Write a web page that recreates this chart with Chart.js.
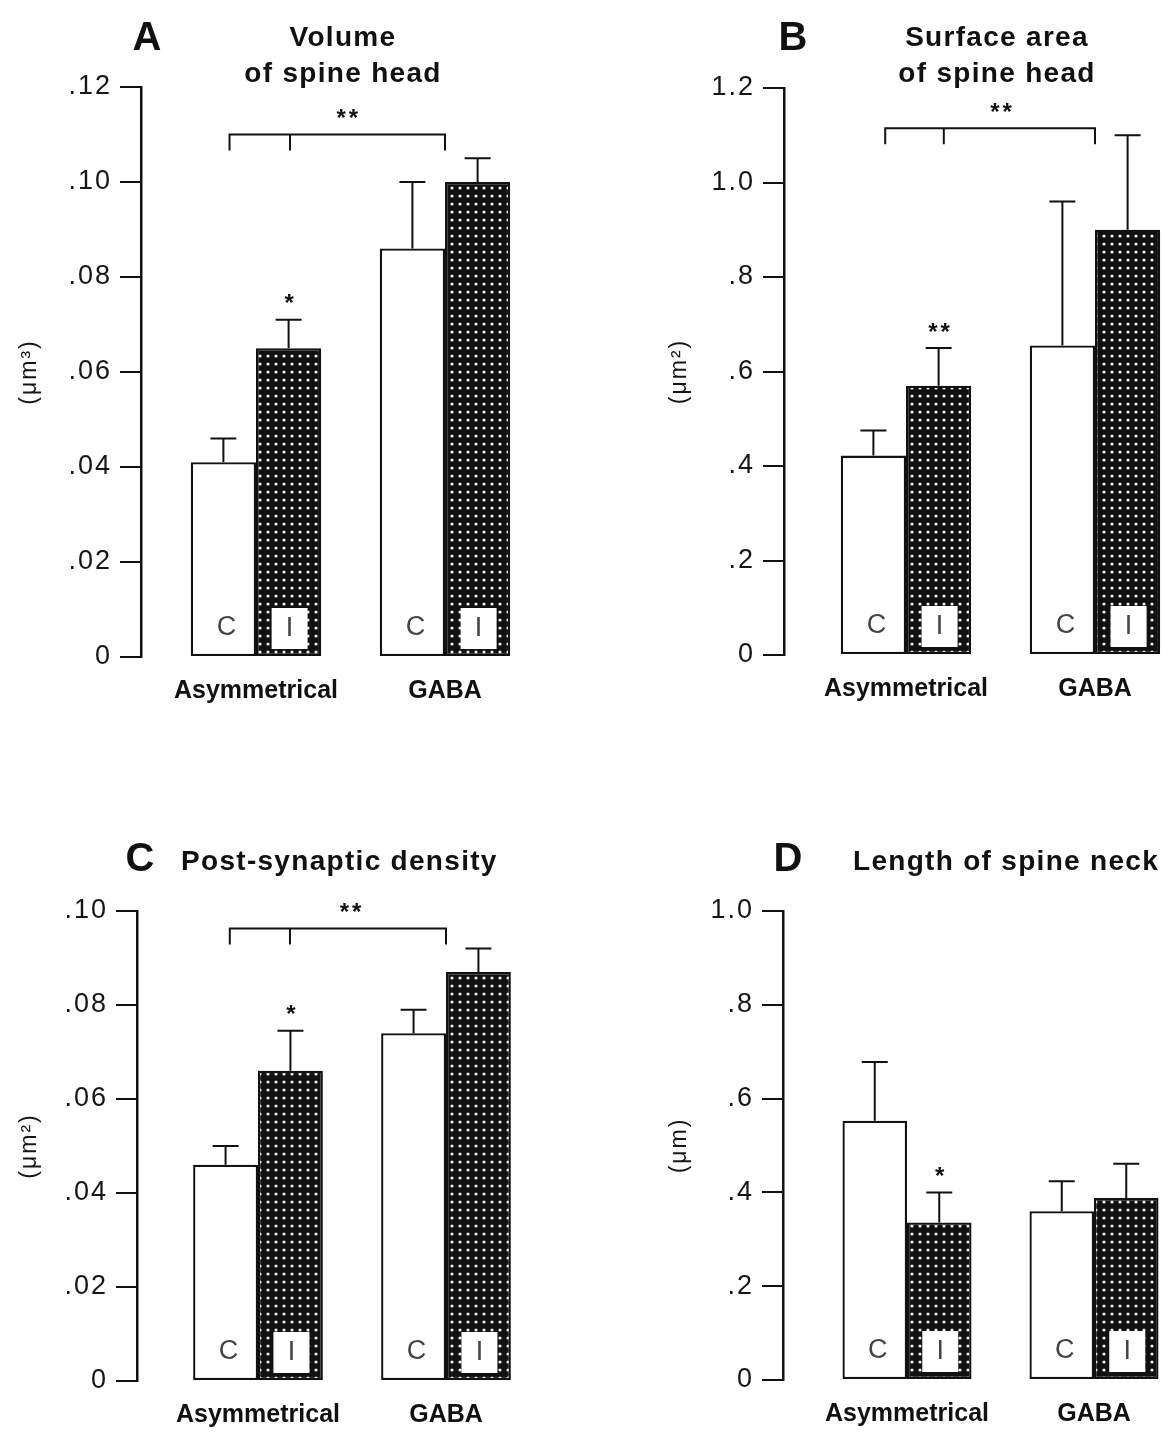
<!DOCTYPE html>
<html>
<head>
<meta charset="utf-8">
<script src="https://cdn.jsdelivr.net/npm/chart.js@4.4.1/dist/chart.umd.min.js"></script>
<style>
  body { margin: 0; background: #fff; }
  #page { position: relative; width: 1165px; height: 1432px; overflow: hidden;
          font-family: 'Liberation Sans', Arial, Helvetica, sans-serif; color: #111; }
  .box { position: absolute; }
  .letter { position: absolute; font-size: 40px; font-weight: bold; line-height: 40px;
            transform: translateX(-50%); z-index: 2; }
  .title { position: absolute; font-size: 28px; font-weight: bold; line-height: 36px;
           letter-spacing: 1.3px; white-space: nowrap; z-index: 2; }
  .center { transform: translateX(-50%); text-align: center; }
</style>
</head>
<body>
<div id="page">
  <div class="letter" style="left:147px; top:16px">A</div>
  <div class="title center" style="left:343px; top:19px">Volume<br>of spine head</div>
  <div class="letter" style="left:793px; top:16px">B</div>
  <div class="title center" style="left:997px; top:19px">Surface area<br>of spine head</div>
  <div class="letter" style="left:140px; top:837px">C</div>
  <div class="title" style="left:181px; top:843px">Post-synaptic density</div>
  <div class="letter" style="left:788px; top:837px">D</div>
  <div class="title" style="left:853px; top:843px">Length of spine neck</div>

  <div class="box" style="left:0px; top:40px"><canvas id="chartA" width="580" height="690"></canvas></div>
  <div class="box" style="left:580px; top:40px"><canvas id="chartB" width="585" height="690"></canvas></div>
  <div class="box" style="left:0px; top:870px"><canvas id="chartC" width="580" height="562"></canvas></div>
  <div class="box" style="left:580px; top:870px"><canvas id="chartD" width="585" height="562"></canvas></div>
</div>
<script>
const categories = ['Asymmetrical', 'GABA'];
const groupLabels = ['C', 'I'];

// A - volume of spine head (um3)
const volumeC = [0.041, 0.086];
const volumeCSem = [0.005, 0.014];
const volumeI = [0.065, 0.100];
const volumeISem = [0.006, 0.005];
const volumeTicks = ['0', '.02', '.04', '.06', '.08', '.10', '.12'];

// B - surface area of spine head (um2)
const surfaceC = [0.422, 0.655];
const surfaceCSem = [0.053, 0.305];
const surfaceI = [0.57, 0.90];
const surfaceISem = [0.08, 0.20];
const surfaceTicks = ['0', '.2', '.4', '.6', '.8', '1.0', '1.2'];

// C - post-synaptic density (um2)
const psdC = [0.046, 0.074];
const psdCSem = [0.004, 0.005];
const psdI = [0.066, 0.087];
const psdISem = [0.0085, 0.005];
const psdTicks = ['0', '.02', '.04', '.06', '.08', '.10'];

// D - length of spine neck (um)
const neckC = [0.553, 0.360];
const neckCSem = [0.125, 0.064];
const neckI = [0.336, 0.388];
const neckISem = [0.064, 0.073];
const neckTicks = ['0', '.2', '.4', '.6', '.8', '1.0'];

Chart.defaults.font.family = "'Liberation Sans', Arial, Helvetica, sans-serif";

// black fill with white dots for the I bars
function dotPattern() {
	var c = document.createElement('canvas');
	c.width = 8; c.height = 8;
	var g = c.getContext('2d');
	g.fillStyle = '#111';
	g.fillRect(0, 0, 8, 8);
	g.fillStyle = '#ececec';
	g.beginPath();
	g.arc(4, 4, 1.6, 0, Math.PI * 2);
	g.fill();
	return g.createPattern(c, 'repeat');
}
var dots = dotPattern();

var panels = [
	{ id: 'chartA', unit: '(\u03bcm\u00b3)', max: 0.12, step: 0.02, ticks: volumeTicks,
	  c: volumeC, cSem: volumeCSem, i: volumeI, iSem: volumeISem,
	  stars: [[1, 0, '*']], bracket: { y: 0.110, xs: [-0.14, 0.18, 1.0], textX: 0.48, text: '**' },
	  left: 0, top: 40, width: 580, height: 690,
	  axisX: 141, firstX: 256, secondX: 445, plotTop: 87, plotBottom: 657, unitX: 30 },
	{ id: 'chartB', unit: '(\u03bcm\u00b2)', max: 1.2, step: 0.2, ticks: surfaceTicks,
	  c: surfaceC, cSem: surfaceCSem, i: surfaceI, iSem: surfaceISem,
	  stars: [[1, 0, '**']], bracket: { y: 1.115, xs: [-0.11, 0.2, 1.0], textX: 0.5, text: '**' },
	  left: 580, top: 40, width: 585, height: 690,
	  axisX: 784, firstX: 906, secondX: 1095, plotTop: 88, plotBottom: 655, unitX: 680 },
	{ id: 'chartC', unit: '(\u03bcm\u00b2)', max: 0.10, step: 0.02, ticks: psdTicks,
	  c: psdC, cSem: psdCSem, i: psdI, iSem: psdISem,
	  stars: [[1, 0, '*']], bracket: { y: 0.0963, xs: [-0.15, 0.17, 1.0], textX: 0.49, text: '**' },
	  left: 0, top: 870, width: 580, height: 562,
	  axisX: 137, firstX: 258, secondX: 446, plotTop: 911, plotBottom: 1381, unitX: 30 },
	{ id: 'chartD', unit: '(\u03bcm)', max: 1.0, step: 0.2, ticks: neckTicks,
	  c: neckC, cSem: neckCSem, i: neckI, iSem: neckISem,
	  stars: [[1, 0, '*']], bracket: null,
	  left: 580, top: 870, width: 585, height: 562,
	  axisX: 783, firstX: 907, secondX: 1094, plotTop: 911, plotBottom: 1380, unitX: 680 }
];

function spaced(scale, px) {
	if (scale._spaced) return;
	scale._spaced = true;
	var draw = scale.draw;
	scale.draw = function (area) {
		this.ctx.letterSpacing = px;
		draw.call(this, area);
		this.ctx.letterSpacing = '0px';
	};
}

function makeMarks(p) {
	return {
		id: 'marks',
		afterDatasetsDraw: function (chart) {
			var ctx = chart.ctx, ys = chart.scales.y, xs = chart.scales.x;
			var metas = [chart.getDatasetMeta(0), chart.getDatasetMeta(1)];
			var vals = [p.c, p.i], sems = [p.cSem, p.iSem];
			ctx.save();
			ctx.strokeStyle = '#111';
			ctx.lineWidth = 2;
			// error bars, upper half only
			metas.forEach(function (meta, d) {
				meta.data.forEach(function (bar, k) {
					var top = ys.getPixelForValue(vals[d][k] + sems[d][k]);
					ctx.beginPath();
					ctx.moveTo(bar.x, bar.y);
					ctx.lineTo(bar.x, top);
					ctx.moveTo(bar.x - 13, top);
					ctx.lineTo(bar.x + 13, top);
					ctx.stroke();
				});
			});
			// C / I tags at the foot of the bars
			ctx.font = "27px 'Liberation Sans', Arial, sans-serif";
			ctx.textAlign = 'center';
			ctx.textBaseline = 'middle';
			metas[0].data.forEach(function (bar) {
				ctx.fillStyle = '#444';
				ctx.fillText(groupLabels[0], bar.x + 3, bar.base - 28);
			});
			metas[1].data.forEach(function (bar) {
				ctx.fillStyle = '#fff';
				ctx.fillRect(bar.x - 17, bar.base - 48, 36, 41);
				ctx.fillStyle = '#444';
				ctx.fillText(groupLabels[1], bar.x + 1, bar.base - 27);
			});
			// significance
			ctx.fillStyle = '#111';
			ctx.font = "bold 24px 'Liberation Sans', Arial, sans-serif";
			ctx.letterSpacing = '3px';
			p.stars.forEach(function (s) {
				var bar = metas[s[0]].data[s[1]];
				var top = ys.getPixelForValue(vals[s[0]][s[1]] + sems[s[0]][s[1]]);
				ctx.fillText(s[2], bar.x + 2, top - 15);
			});
			if (p.bracket) {
				var b = p.bracket;
				var yy = ys.getPixelForValue(b.y);
				var x0 = xs.getPixelForValue(b.xs[0]);
				var x1 = xs.getPixelForValue(b.xs[1]);
				var x2 = xs.getPixelForValue(b.xs[2]);
				ctx.beginPath();
				ctx.moveTo(x0, yy + 16);
				ctx.lineTo(x0, yy);
				ctx.lineTo(x2, yy);
				ctx.lineTo(x2, yy + 16);
				ctx.moveTo(x1, yy);
				ctx.lineTo(x1, yy + 16);
				ctx.stroke();
				ctx.fillText(b.text, xs.getPixelForValue(b.textX) + 2, yy - 15);
			}
			ctx.letterSpacing = '0px';
			ctx.restore();
		}
	};
}

panels.forEach(function (p) {
	var gap = p.secondX - p.firstX;
	var padRight = 4;
	var right = p.left + p.width - padRight;
	var pts = function (arr) { return arr.map(function (v, k) { return { x: k, y: v }; }); };
	new Chart(document.getElementById(p.id), {
		type: 'bar',
		data: {
			datasets: [{
				label: groupLabels[0],
				data: pts(p.c),
				backgroundColor: '#fff',
				borderColor: '#111',
				borderWidth: 2.3,
				borderSkipped: false,
				barPercentage: 1,
				categoryPercentage: 0.69,
				clip: false
			}, {
				label: groupLabels[1],
				data: pts(p.i),
				backgroundColor: dots,
				borderColor: '#111',
				borderWidth: 2.3,
				borderSkipped: false,
				barPercentage: 1,
				categoryPercentage: 0.69,
				clip: false
			}]
		},
		options: {
			responsive: false,
			animation: false,
			devicePixelRatio: 1,
			layout: { padding: { top: p.plotTop - p.top, left: 0, right: padRight, bottom: 0 } },
			plugins: { legend: { display: false }, tooltip: { enabled: false } },
			scales: {
				x: {
					type: 'linear',
					offset: false,
					min: (p.axisX - p.firstX) / gap,
					max: (right - p.firstX) / gap,
					grid: { display: false, drawTicks: false },
					border: { display: false },
					ticks: {
						autoSkip: false,
						maxRotation: 0,
						padding: 19,
						color: '#111',
						font: { size: 25, weight: 'bold' },
						callback: function (v) { return categories[v] !== undefined ? categories[v] : ''; }
					},
					afterBuildTicks: function (s) {
						s.ticks = categories.map(function (_, k) { return { value: k }; });
					},
					afterFit: function (s) { s.height = p.top + p.height - p.plotBottom; }
				},
				y: {
					min: 0,
					max: p.max,
					ticks: {
						stepSize: p.step,
						padding: 8,
						color: '#151515',
						font: { size: 27 },
						callback: function (v, idx) { return p.ticks[idx]; }
					},
					grid: { drawOnChartArea: false, drawTicks: true, tickLength: 21, color: '#111', lineWidth: 2 },
					border: { display: true, color: '#111', width: 2.5 },
					title: {
						display: true,
						text: p.unit,
						color: '#151515',
						font: { size: 23 },
						padding: { top: p.unitX - p.left - 13.8, bottom: 0 }
					},
					afterFit: function (s) {
						s.width = p.axisX - p.left;
						spaced(s, '2px');
					}
				}
			}
		},
		plugins: [makeMarks(p)]
	});
});
</script>
</body>
</html>
